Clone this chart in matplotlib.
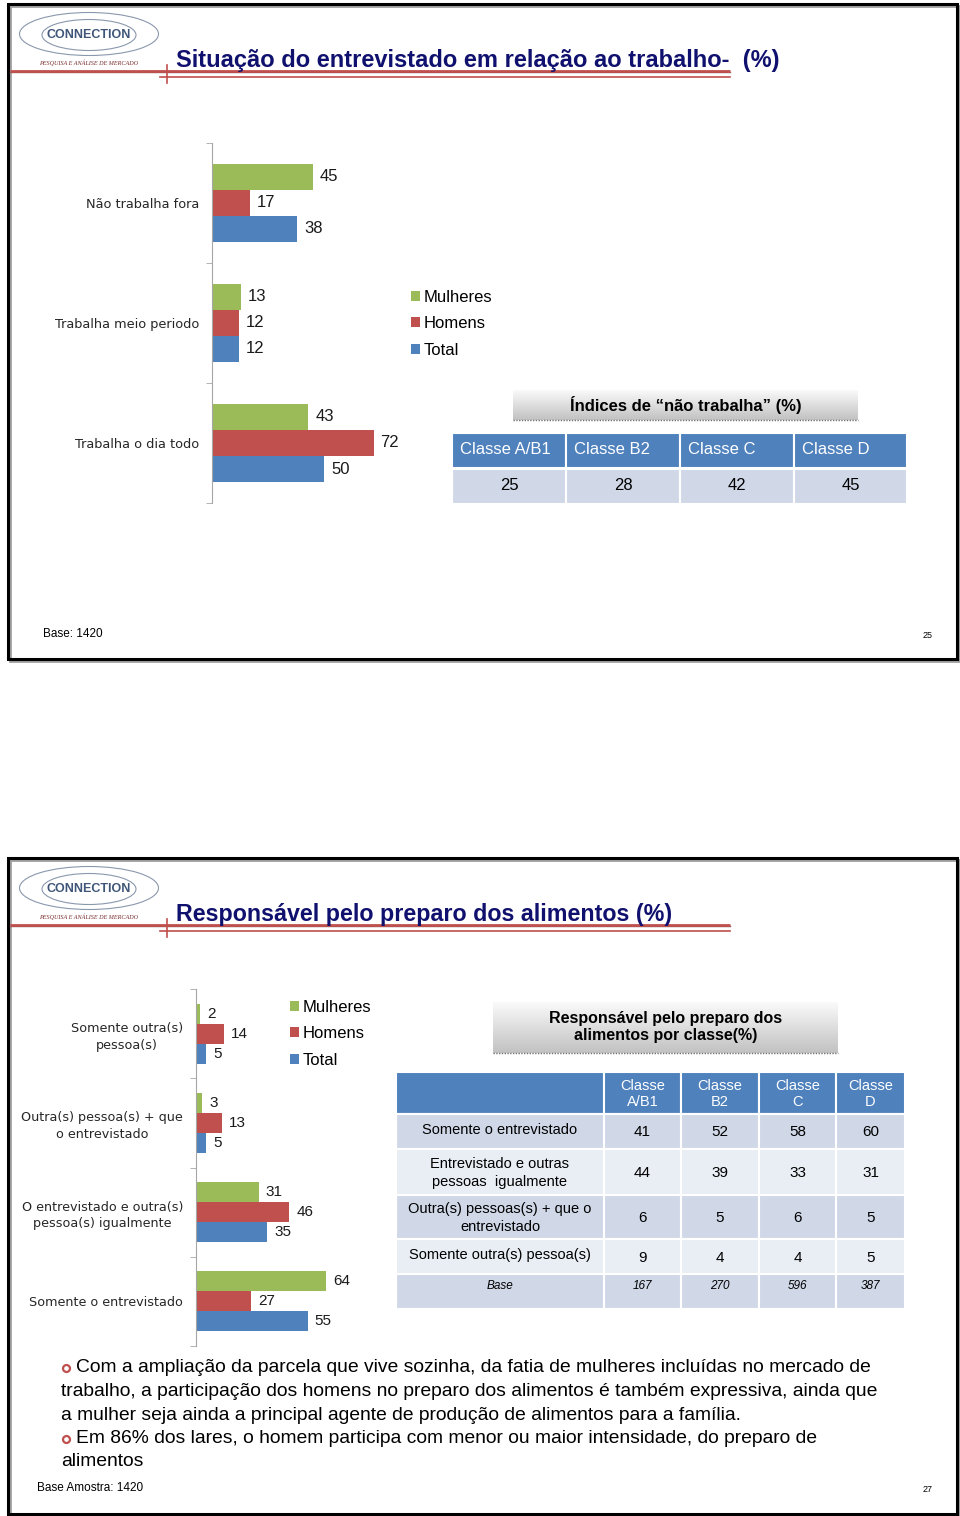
import numpy as np
import matplotlib.pyplot as plt
from matplotlib import font_manager
from matplotlib.patches import Rectangle, Ellipse

# ---- data ----
series = ['Mulheres', 'Homens', 'Total']
colors = ['#9bbb59', '#c0504d', '#4f81bd']

trab_cats = ['Não trabalha fora', 'Trabalha meio periodo', 'Trabalha o dia todo']
trab_mulheres = [45, 13, 43]
trab_homens = [17, 12, 72]
trab_total = [38, 12, 50]

idx_classes = ['Classe A/B1', 'Classe B2', 'Classe C', 'Classe D']
idx_nao_trab = [25, 28, 42, 45]

prep_cats = ['Somente outra(s)\npessoa(s)', 'Outra(s) pessoa(s) + que\no entrevistado',
             'O entrevistado e outra(s)\npessoa(s) igualmente', 'Somente o entrevistado']
prep_mulheres = [2, 3, 31, 64]
prep_homens = [14, 13, 46, 27]
prep_total = [5, 5, 35, 55]

prep_classes = ['Classe\nA/B1', 'Classe\nB2', 'Classe\nC', 'Classe\nD']
prep_rows = ['Somente o entrevistado', 'Entrevistado e outras\npessoas  igualmente',
             'Outra(s) pessoas(s) + que o\nentrevistado', 'Somente outra(s) pessoa(s)']
prep_ab1 = [41, 44, 6, 9]
prep_b2 = [52, 39, 5, 4]
prep_c = [58, 33, 6, 4]
prep_d = [60, 31, 5, 5]
prep_base = [167, 270, 596, 387]

bullets = [
    (True, 'Com a ampliação da parcela que vive sozinha, da fatia de mulheres incluídas no mercado de'),
    (False, 'trabalho, a participação dos homens no preparo dos alimentos é também expressiva, ainda que'),
    (False, 'a mulher seja ainda a principal agente de produção de alimentos para a família.'),
    (True, 'Em 86% dos lares, o homem participa com menor ou maior intensidade, do preparo de'),
    (False, 'alimentos'),
]

installed = {f.name for f in font_manager.fontManager.ttflist}
SANS = 'Liberation Sans' if 'Liberation Sans' in installed else 'DejaVu Sans'
plt.rcParams['font.family'] = [SANS, 'DejaVu Sans']

W, H = 960, 1516
fig = plt.figure(figsize=(W / 100, H / 100), dpi=100)
bg = fig.add_axes([0, 0, 1, 1])
bg.set_zorder(0)


def fbox(x0, y0, x1, y1):
    return [x0 / W, 1 - y1 / H, (x1 - x0) / W, (y1 - y0) / H]


def slide_frame(top, bottom, title, title_size, page, base_txt, base_x, base_y):
    bg.add_patch(Rectangle((10, top + 2), 949, bottom - top, fc='none', ec='#a0a0a0', lw=2))
    bg.add_patch(Rectangle((8, top), 949, bottom - top, fc='none', ec='black', lw=2.2))
    # logo
    bg.add_patch(Ellipse((89, top + 30), 139, 43, fill=False, ec='#8a98ad', lw=0.8))
    bg.add_patch(Ellipse((89, top + 31), 94, 31, fill=False, ec='#8a98ad', lw=0.8))
    bg.text(89, top + 31, 'CONNECTION', ha='center', va='center', size=9,
            color='#3f5678', weight='semibold')
    bg.text(89, top + 59, 'PESQUISA E ANÁLISE DE MERCADO', ha='center', va='center',
            size=4.4, style='italic', color='#7b2d2d', family=['Liberation Serif', 'DejaVu Serif'])
    # red rules
    bg.plot([10, 730], [top + 68, top + 68], color='#8c6060', lw=1.0)
    bg.plot([10, 730], [top + 67, top + 67], color='#c0504d', lw=2.0, solid_capstyle='butt')
    bg.plot([160, 730], [top + 73, top + 73], color='#c0504d', lw=1.2)
    bg.plot([167, 167], [top + 61, top + 79], color='#c0504d', lw=1.2)
    bg.text(176, top + 57, title, ha='left', va='center', size=title_size, weight='bold',
            color='#10106e')
    bg.text(base_x, base_y, base_txt, ha='left', va='center', size=8.5, color='black')
    bg.text(928, base_y + 2, page, ha='center', va='center', size=6.5, color='black')


def gradient_box(x0, y0, x1, y1):
    g = np.linspace(0, 1, 64)[:, None]
    top_c = np.array([0.98, 0.98, 0.98])
    bot_c = np.array([0.76, 0.76, 0.76])
    img = top_c + (bot_c - top_c) * g[..., None]
    bg.imshow(img, extent=(x0, x1, y1, y0), aspect='auto', zorder=1)
    bg.plot([x0, x1], [y1, y1], color='#707070', lw=1, ls=(0, (1, 1)), zorder=2)


def hbars(rect, cats, vals, bar_h, label_size, cat_size):
    ax = fig.add_axes(fbox(*rect))
    ax.set_zorder(2)
    ax.set_facecolor('none')
    n = len(cats)
    y = np.arange(n) + 0.5
    for k, (v, c, name) in enumerate(zip(vals, colors, series)):
        bars = ax.barh(y + (k - 1) * bar_h, v, height=bar_h, color=c, label=name)
        for b, val in zip(bars, v):
            ax.annotate(str(val), (b.get_width(), b.get_y() + b.get_height() / 2),
                        xytext=(5, 0), textcoords='offset points', ha='left', va='center',
                        size=label_size, color='#1a1a1a')
    ax.set_xlim(0, 100)
    ax.set_ylim(n, 0)
    ax.set_yticks(y)
    ax.set_yticklabels(cats, size=cat_size, color='#262626', family=['DejaVu Sans'])
    for t in ax.get_yticklabels():
        t.set_multialignment('center')
        t.set_linespacing(1.35)
    ax.set_yticks(np.arange(n + 1), minor=True)
    ax.tick_params(axis='y', which='major', length=0, pad=9.4)
    ax.tick_params(axis='y', which='minor', length=4, color='#a6a6a6')
    ax.set_xticks([])
    for s in ['top', 'right', 'bottom']:
        ax.spines[s].set_visible(False)
    ax.spines['left'].set_color('#a6a6a6')
    return ax


def legend_at(ax, x, y):
    ax.legend(loc='upper left', bbox_to_anchor=(x / W, 1 - y / H),
              bbox_transform=fig.transFigure, frameon=False, fontsize=12,
              handlelength=0.55, handleheight=0.55, handletextpad=0.2,
              labelspacing=0.68, borderpad=0, borderaxespad=0)


def cell(x0, y0, x1, y1, fc):
    bg.add_patch(Rectangle((x0, y0), x1 - x0, y1 - y0, fc=fc, ec='white', lw=1.5, zorder=1))


HEAD = '#4f81bd'
DARK = '#d0d8e8'
LIGHT = '#e9edf4'

# ---------- slide 1 ----------
slide_frame(4, 659, 'Situação do entrevistado em relação ao trabalho-  (%)', 17, '25',
            'Base: 1420', 43, 634)

ax1 = hbars((212, 143, 212 + 224.4, 503), trab_cats,
            [trab_mulheres, trab_homens, trab_total], 26 / 120, 12, 9.3)
legend_at(ax1, 411, 290)

gradient_box(513, 390, 858, 420)
bg.text(685.5, 405, 'Índices de “não trabalha” (%)', ha='center', va='center',
        size=12, weight='bold', color='black', zorder=3)
cols1 = [452, 566, 680, 794, 907]
for i, (name, val) in enumerate(zip(idx_classes, idx_nao_trab)):
    x0, x1 = cols1[i], cols1[i + 1]
    cell(x0, 433, x1, 468, HEAD)
    cell(x0, 469, x1, 504, DARK)
    bg.text(x0 + 8, 449, name, ha='left', va='center', size=12, color='white', zorder=3)
    bg.text((x0 + x1) / 2, 485, str(val), ha='center', va='center', size=12,
            color='black', zorder=3)

# ---------- slide 2 ----------
slide_frame(858, 1514, 'Responsável pelo preparo dos alimentos (%)', 16.75, '27',
            'Base Amostra: 1420', 37, 1488)

ax2 = hbars((196, 989, 196 + 203, 1346), prep_cats,
            [prep_mulheres, prep_homens, prep_total], 20 / 89.25, 11, 9.2)
legend_at(ax2, 290, 1000)

gradient_box(493, 1002, 838, 1053)
bg.text(665.5, 1027, 'Responsável pelo preparo dos\nalimentos por classe(%)', ha='center',
        va='center', size=11.5, weight='bold', color='black', linespacing=1.15, zorder=3)

cols2 = [396, 604, 681, 759, 836, 905]
rows2 = [1072, 1114, 1149, 1195, 1239, 1274, 1309]
table_vals = [prep_ab1, prep_b2, prep_c, prep_d]

cell(cols2[0], rows2[0], cols2[1], rows2[1], HEAD)
for j, name in enumerate(prep_classes):
    x0, x1 = cols2[j + 1], cols2[j + 2]
    cell(x0, rows2[0], x1, rows2[1], HEAD)
    bg.text((x0 + x1) / 2, (rows2[0] + rows2[1]) / 2 + 1, name, ha='center', va='center',
            size=10.5, color='white', linespacing=1.2, zorder=3)

for i, label in enumerate(prep_rows):
    y0, y1 = rows2[i + 1], rows2[i + 2]
    fc = DARK if i % 2 == 0 else LIGHT
    cell(cols2[0], y0, cols2[1], y1, fc)
    bg.text((cols2[0] + cols2[1]) / 2, (y0 + y1) / 2 + (1 if '\n' in label else -2), label,
            ha='center', va='center', size=10.5, color='black', linespacing=1.4, zorder=3)
    for j in range(4):
        x0, x1 = cols2[j + 1], cols2[j + 2]
        cell(x0, y0, x1, y1, fc)
        bg.text((x0 + x1) / 2, (y0 + y1) / 2 + 1, str(table_vals[j][i]), ha='center',
                va='center', size=11, color='black', zorder=3)

y0, y1 = rows2[5], rows2[6]
cell(cols2[0], y0, cols2[1], y1, DARK)
bg.text((cols2[0] + cols2[1]) / 2, y0 + 12, 'Base', ha='center', va='center',
        size=8.5, style='italic', zorder=3)
for j, b in enumerate(prep_base):
    x0, x1 = cols2[j + 1], cols2[j + 2]
    cell(x0, y0, x1, y1, DARK)
    bg.text((x0 + x1) / 2, y0 + 12, str(b), ha='center', va='center', size=8.5,
            style='italic', zorder=3)

# bullets
for k, (has_bullet, line) in enumerate(bullets):
    yy = 1368 + k * 23.5
    if has_bullet:
        bg.plot(66, yy, marker='o', ms=5, mfc='white', mec='#c0504d', mew=1.6)
        bg.text(76, yy, line, ha='left', va='center', size=13.9, color='black')
    else:
        bg.text(61, yy, line, ha='left', va='center', size=13.9, color='black')

bg.set_xlim(0, W)
bg.set_ylim(H, 0)
bg.axis('off')

fig.savefig('out.png', dpi=100, facecolor='white')
